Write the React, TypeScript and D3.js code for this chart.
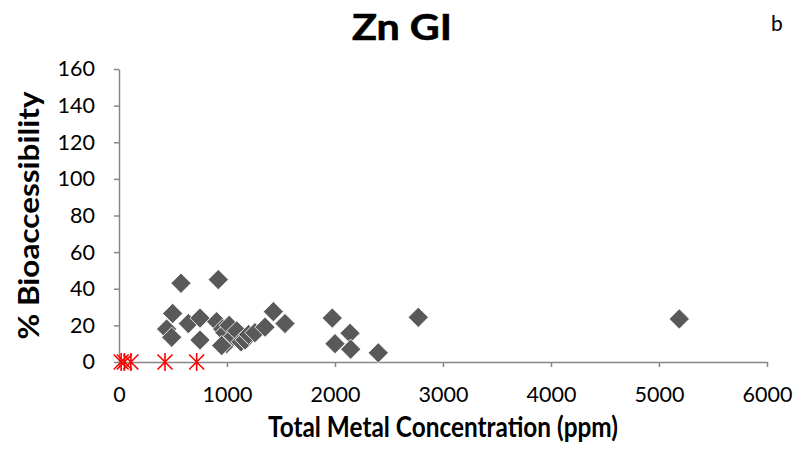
import React, { useEffect, useRef } from "react";
import * as d3 from "d3";

const title = "Zn GI";
const panelLabel = "b";
const xTitle = "Total Metal Concentration (ppm)";
const yTitle = "% Bioaccessibility";

const xTicks = [0, 1000, 2000, 3000, 4000, 5000, 6000];
const yTicks = [0, 20, 40, 60, 80, 100, 120, 140, 160];

// grey diamonds: total concentration (ppm), % bioaccessibility
const diamondX = [574, 919, 497, 1429, 441, 488, 642, 750, 750, 904, 960, 981, 997, 951, 1020, 1058, 1090, 1130, 1167, 1200, 1259, 1352, 1537, 1975, 2000, 2139, 2145, 2401, 2771, 5188];
const diamondY = [43, 45, 26.5, 27.5, 18, 13.5, 21, 24, 12, 22, 18, 16, 10, 9, 20, 14, 17, 11, 12, 15, 16, 19, 21, 24, 10, 15.7, 7, 5, 24.4, 23.5];

// red asterisks (below detection) at 0 %
const starX = [20, 50, 110, 426, 719];
const starY = [0, 0, 0, 0, 0];

export default function App() {
  const ref = useRef<SVGSVGElement>(null);

  useEffect(() => {
    document.body.style.margin = "0";
    const svg = d3.select(ref.current);
    svg.selectAll("*").remove();

    const W = 802, H = 462;
    const left = 119, right = 767, top = 69, bottom = 362;
    const x = d3.scaleLinear().domain([0, 6000]).range([left, right]);
    const y = d3.scaleLinear().domain([0, 160]).range([bottom, top]);
    const font = "Lato, 'Open Sans', sans-serif";
    const axisColor = "#868686";

    svg.append("rect").attr("width", W).attr("height", H).attr("fill", "#fff");

    // y axis
    const gy = svg.append("g").attr("transform", `translate(${left},0)`)
      .call(d3.axisLeft(y).tickValues(yTicks).tickSize(5).tickPadding(19).tickSizeOuter(0));
    gy.select(".domain").attr("stroke", axisColor).attr("stroke-width", 1.5);
    gy.selectAll(".tick line").attr("stroke", axisColor).attr("stroke-width", 1.5);
    gy.selectAll(".tick text").attr("font-family", font).attr("font-size", 21.5).attr("fill", "#000");

    // x axis
    const gx = svg.append("g").attr("transform", `translate(0,${bottom})`)
      .call(d3.axisBottom(x).tickValues(xTicks).tickSize(5).tickPadding(20).tickSizeOuter(0).tickFormat(d3.format("d")));
    gx.select(".domain").attr("stroke", axisColor).attr("stroke-width", 1.5);
    gx.selectAll(".tick line").attr("stroke", axisColor).attr("stroke-width", 1.5);
    gx.selectAll(".tick text").attr("font-family", font).attr("font-size", 21.5).attr("fill", "#000");

    // diamonds
    const diamond = d3.symbol().type(d3.symbolSquare).size(205);
    const pts = diamondX.map((v, i) => [v, diamondY[i]]);
    svg.append("g").selectAll("path").data(pts).join("path")
      .attr("d", diamond)
      .attr("transform", (d) => `translate(${x(d[0])},${y(d[1])}) rotate(45)`)
      .attr("fill", "#595959")
      .attr("stroke", "#ffffff")
      .attr("stroke-width", 0.8);

    // asterisks
    const starPath = (() => {
      const p = d3.path();
      const a = 7.5, v = 9;
      p.moveTo(-a, -a); p.lineTo(a, a);
      p.moveTo(-a, a); p.lineTo(a, -a);
      p.moveTo(0, -v); p.lineTo(0, v);
      return p.toString();
    })();
    const spts = starX.map((v, i) => [v, starY[i]]);
    svg.append("g").selectAll("path").data(spts).join("path")
      .attr("d", starPath)
      .attr("transform", (d) => `translate(${x(d[0])},${y(d[1])})`)
      .attr("fill", "none")
      .attr("stroke", "#ff0000")
      .attr("stroke-width", 1.6);

    // titles
    svg.append("text").attr("x", 402).attr("y", 40).attr("text-anchor", "middle")
      .attr("font-family", font).attr("font-weight", "bold").attr("font-size", 37)
      .attr("stroke", "#000").attr("stroke-width", 0.6)
      .attr("textLength", 100).attr("lengthAdjust", "spacingAndGlyphs").text(title);
    svg.append("text").attr("x", 777).attr("y", 31).attr("text-anchor", "middle")
      .attr("font-family", font).attr("font-size", 21).text(panelLabel);
    svg.append("text").attr("x", (left + right) / 2).attr("y", 437).attr("text-anchor", "middle")
      .attr("font-family", font).attr("font-weight", "bold").attr("font-size", 28)
      .attr("textLength", 350).attr("lengthAdjust", "spacingAndGlyphs").text(xTitle);
    svg.append("text").attr("transform", `translate(39,${(top + bottom) / 2}) rotate(-90)`)
      .attr("text-anchor", "middle")
      .attr("font-family", font).attr("font-weight", "bold").attr("font-size", 28)
      .attr("textLength", 248).attr("lengthAdjust", "spacingAndGlyphs").text(yTitle);
  }, []);

  return <svg ref={ref} width={802} height={462} style={{ display: "block" }} />;
}
